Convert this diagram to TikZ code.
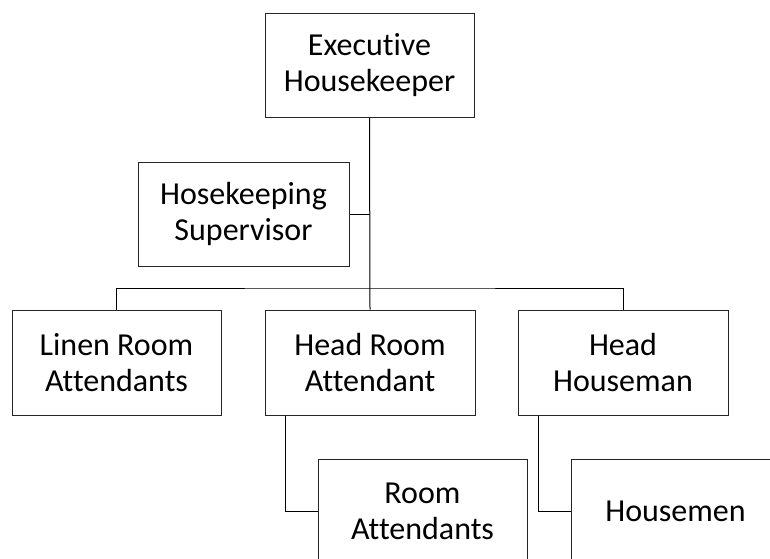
\documentclass[tikz,border=0pt]{standalone}
\usepackage{fontspec}
\setmainfont[Ligatures={NoCommon}]{Carlito}
\begin{document}
\begin{tikzpicture}[x=1pt,y=-1pt,
  box/.style={draw=black!85,line width=1pt,fill=white,rectangle,align=center,
    inner sep=0pt,font=\fontsize{32}{36}\selectfont},
  link/.style={draw=black,line width=1pt}]
\useasboundingbox (0,0) rectangle (770,558);
\clip (0,0) rectangle (770,558);
\node[box,minimum width=209pt,minimum height=104pt] (exec) at (369.5,65) {Executive\\Housekeeper};
\node[box,minimum width=211pt,minimum height=104pt] (sup) at (243.5,214) {Hosekeeping\\Supervisor};
\node[box,minimum width=209pt,minimum height=105pt] (linen) at (116.5,362.5) {Linen Room\\Attendants};
\node[box,minimum width=210pt,minimum height=105pt] (hra) at (370,362.5) {Head Room\\Attendant};
\node[box,minimum width=210pt,minimum height=105pt] (hh) at (623,362.5) {Head\\Houseman};
\node[box,minimum width=209pt,minimum height=105pt] (ra) at (422.5,511.5) {Room\\Attendants};
\node[box,minimum width=209pt,minimum height=105pt] (hm) at (675.5,511.5) {Housemen};
\coordinate (bus) at (370,288);
\draw[link] (exec.south) -- (hra.north);
\draw[link] (sup.east) -- (sup.east -| exec.south);
\draw[link] (linen.north) |- (bus) -| (hh.north);
\draw[link] ([xshift=21pt]hra.south west) |- (ra.west);
\draw[link] ([xshift=21pt]hh.south west) |- (hm.west);
\end{tikzpicture}
\end{document}
